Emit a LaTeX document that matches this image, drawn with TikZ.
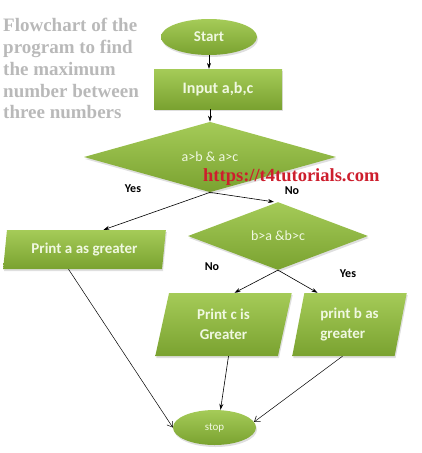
\documentclass[tikz,border=0pt]{standalone}
\usepackage{fontspec}
\setmainfont{Carlito}
\newfontfamily\serifb{Liberation Serif}
\usetikzlibrary{shapes.geometric,arrows.meta,calc,shadows}
\definecolor{gtop}{RGB}{165,203,88}
\definecolor{gbot}{RGB}{122,162,48}
\definecolor{gtext}{RGB}{240,248,225}
\definecolor{titlegray}{RGB}{185,185,185}
\definecolor{wmred}{RGB}{205,30,45}
\tikzset{
  gshape/.style={top color=gtop, bottom color=gbot, draw=none, text=gtext,
    font=\bfseries\fontsize{15}{18}\selectfont, inner sep=1pt,
    drop shadow={opacity=0.25, shadow xshift=1pt, shadow yshift=-2pt}},
  term/.style={gshape, ellipse},
  procbox/.style={gshape, rectangle},
  decide/.style={gshape, diamond, font=\fontsize{14}{17}\selectfont},
  iobox/.style={gshape, trapezium, trapezium stretches=true, align=center},
  lbl/.style={font=\bfseries\fontsize{12}{14}\selectfont, text=black, inner sep=0pt},
  ttl/.style={font=\serifb\bfseries\fontsize{19}{22}\selectfont, text=titlegray, anchor=base west, inner sep=0pt},
  arr/.style={-{Stealth[length=6pt,width=4pt]}, line width=0.6pt},
  oarr/.style={-{Straight Barb[length=5pt,width=7pt]}, line width=0.5pt}
}
\begin{document}
\begin{tikzpicture}[x=1pt,y=-1pt]
\useasboundingbox (0,0) rectangle (422,453);
% title
\node[ttl] (t1) at (3,31) {Flowchart of the};
\node[ttl] (t2) at (3,53) {program to find};
\node[ttl] (t3) at (3,75) {the maximum};
\node[ttl] (t4) at (3,97) {number between};
\node[ttl] (t5) at (3,118) {three numbers};
% shapes
\node[term, minimum width=96pt, minimum height=36pt] (start) at (209,37) {Start};
\node[procbox, minimum width=128pt, minimum height=40pt, font=\bfseries\fontsize{16}{19}\selectfont] (input) at (218,89) {Input a,b,c};
\node[decide, minimum width=252pt, minimum height=60pt] (d1) at (210,157) {a>b \& a>c};
\node[iobox, trapezium left angle=80, trapezium right angle=100, minimum width=163pt, minimum height=39pt] (pa) at (84.5,249.5) {Print a as greater};
\node[decide, minimum width=180pt, minimum height=49pt] (d2) at (278,236) {b>a \&b>c};
\node[iobox, trapezium left angle=78, trapezium right angle=102, minimum width=137pt, minimum height=63pt, font=\bfseries\fontsize{15}{20}\selectfont] (pc) at (223.5,324.5) {Print c is\\Greater};
\node[iobox, trapezium left angle=77, trapezium right angle=103, minimum width=115pt, minimum height=63pt, font=\bfseries\fontsize{15}{20}\selectfont, align=left] (pb) at (349.5,324.5) {print b as\\greater};
\node[term, minimum width=83pt, minimum height=35pt, font=\fontsize{11}{13}\selectfont] (stop) at (214.5,427.5) {stop};
% labels
\node[lbl] (y1) at (133,189) {Yes};
\node[lbl] (n1) at (292,191) {No};
\node[lbl] (n2) at (212,267) {No};
\node[lbl] (y2) at (348,274) {Yes};
% connectors
\draw[arr] (start.south) -- (start.south |- input.north);
\draw[arr] (d1.north |- input.south) -- (d1.north);
\draw[arr] (d1.south) -- ($(pa.north)+(19,0)$);
\draw[arr] (d1.south) -- ($(d2.north)+(-4,0)$);
\draw[arr] (d2.south) -- ($(pc.north)+(11,0)$);
\draw[arr] (d2.south) -- ($(pb.north)+(-32,0)$);
\draw[oarr] ($(pa.south)+(-16,0)$) -- (stop.west);
\draw[arr] ($(pc.south)+(5,0)$) -- ($(stop.north)+(6,0)$);
\draw[oarr] ($(pb.south)+(-7,0)$) -- (stop.8);
% watermark
\node[font=\serifb\bfseries\fontsize{18.5}{20}\selectfont, text=wmred, anchor=base west, inner sep=0pt] (wm) at (203,181) {https://t4tutorials.com};
\end{tikzpicture}
\end{document}
